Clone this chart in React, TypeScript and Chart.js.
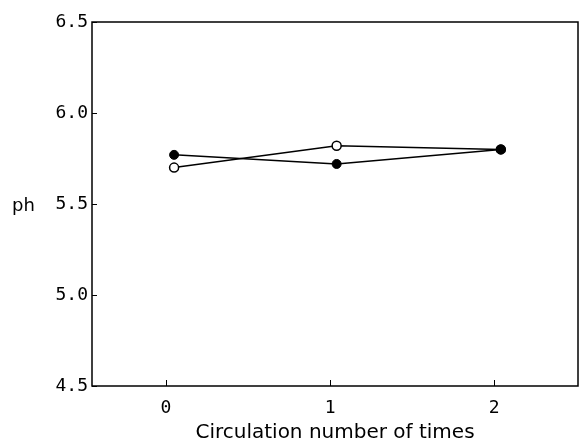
import React, { useEffect, useRef } from "react";
import { Chart, registerables } from "chart.js";

Chart.register(...registerables);

const circulation = [0.05, 1.04, 2.04];
const phFilled = [5.77, 5.72, 5.8];
const phOpen = [5.7, 5.82, 5.8];
const xTicks = [0, 1, 2];
const yTicks = [4.5, 5.0, 5.5, 6.0, 6.5];

const tickFont = { family: "DejaVu Sans Mono", size: 18 };

const framePlugin = {
  id: "frame",
  afterDraw(chart: any) {
    const { ctx, chartArea } = chart;
    const x = chart.scales.x;
    const y = chart.scales.y;
    ctx.save();
    ctx.strokeStyle = "#000";
    ctx.lineWidth = 1.5;
    ctx.strokeRect(chartArea.left, chartArea.top, chartArea.right - chartArea.left, chartArea.bottom - chartArea.top);
    ctx.lineWidth = 1;
    ctx.beginPath();
    for (const v of yTicks) {
      const py = Math.round(y.getPixelForValue(v)) + 0.5;
      ctx.moveTo(chartArea.left, py);
      ctx.lineTo(chartArea.left + 5, py);
    }
    for (const v of xTicks) {
      const px = Math.round(x.getPixelForValue(v)) + 0.5;
      ctx.moveTo(px, chartArea.bottom);
      ctx.lineTo(px, chartArea.bottom - 6);
    }
    ctx.stroke();
    ctx.fillStyle = "#000";
    ctx.font = "18px 'DejaVu Sans'";
    ctx.textAlign = "left";
    ctx.textBaseline = "middle";
    ctx.fillText("ph", 12, y.getPixelForValue(5.5) + 2);
    ctx.restore();
  },
};

export default function App() {
  const ref = useRef<HTMLCanvasElement | null>(null);
  useEffect(() => {
    if (!ref.current) return;
    const chart = new Chart(ref.current, {
      type: "line",
      data: {
        datasets: [
          {
            label: "filled",
            data: circulation.map((c, i) => ({ x: c, y: phFilled[i] })),
            borderColor: "#000",
            backgroundColor: "#000",
            borderWidth: 1.5,
            pointRadius: 4.5,
            pointBorderColor: "#000",
            pointBackgroundColor: "#000",
            pointBorderWidth: 1,
            tension: 0,
          },
          {
            label: "open",
            data: circulation.map((c, i) => ({ x: c, y: phOpen[i] })),
            borderColor: "#000",
            backgroundColor: "#fff",
            borderWidth: 1.5,
            pointRadius: 4.5,
            pointBorderColor: "#000",
            pointBackgroundColor: "#fff",
            pointBorderWidth: 1.5,
            tension: 0,
          },
        ],
      },
      options: {
        animation: false,
        responsive: false,
        maintainAspectRatio: false,
        layout: { padding: { top: 22, right: 7, left: 0, bottom: 0 } },
        plugins: { legend: { display: false }, tooltip: { enabled: false } },
        scales: {
          x: {
            type: "linear",
            min: -0.45,
            max: 2.51,
            afterBuildTicks: (s: any) => {
              s.ticks = xTicks.map((v) => ({ value: v }));
            },
            afterFit: (s: any) => {
              s.height = 59;
            },
            grid: { display: false, drawTicks: false },
            border: { display: false },
            ticks: {
              color: "#000",
              font: tickFont,
              padding: 12,
              maxRotation: 0,
              callback: (v: any) => String(v),
            },
            title: {
              display: true,
              text: "Circulation number of times",
              color: "#000",
              font: { family: "DejaVu Sans", size: 20 },
              padding: 0,
            },
          },
          y: {
            type: "linear",
            min: 4.5,
            max: 6.5,
            afterBuildTicks: (s: any) => {
              s.ticks = yTicks.map((v) => ({ value: v }));
            },
            afterFit: (s: any) => {
              s.width = 92;
            },
            grid: { display: false, drawTicks: false },
            border: { display: false },
            ticks: {
              color: "#000",
              font: tickFont,
              padding: 4,
              callback: (v: any) => Number(v).toFixed(1),
            },
          },
        },
      },
      plugins: [framePlugin],
    });
    return () => chart.destroy();
  }, []);
  return (
    <div style={{ position: "absolute", left: 0, top: 0, width: 585, height: 445, background: "#fff" }}>
      <canvas ref={ref} width={585} height={445} style={{ width: 585, height: 445 }} />
    </div>
  );
}
